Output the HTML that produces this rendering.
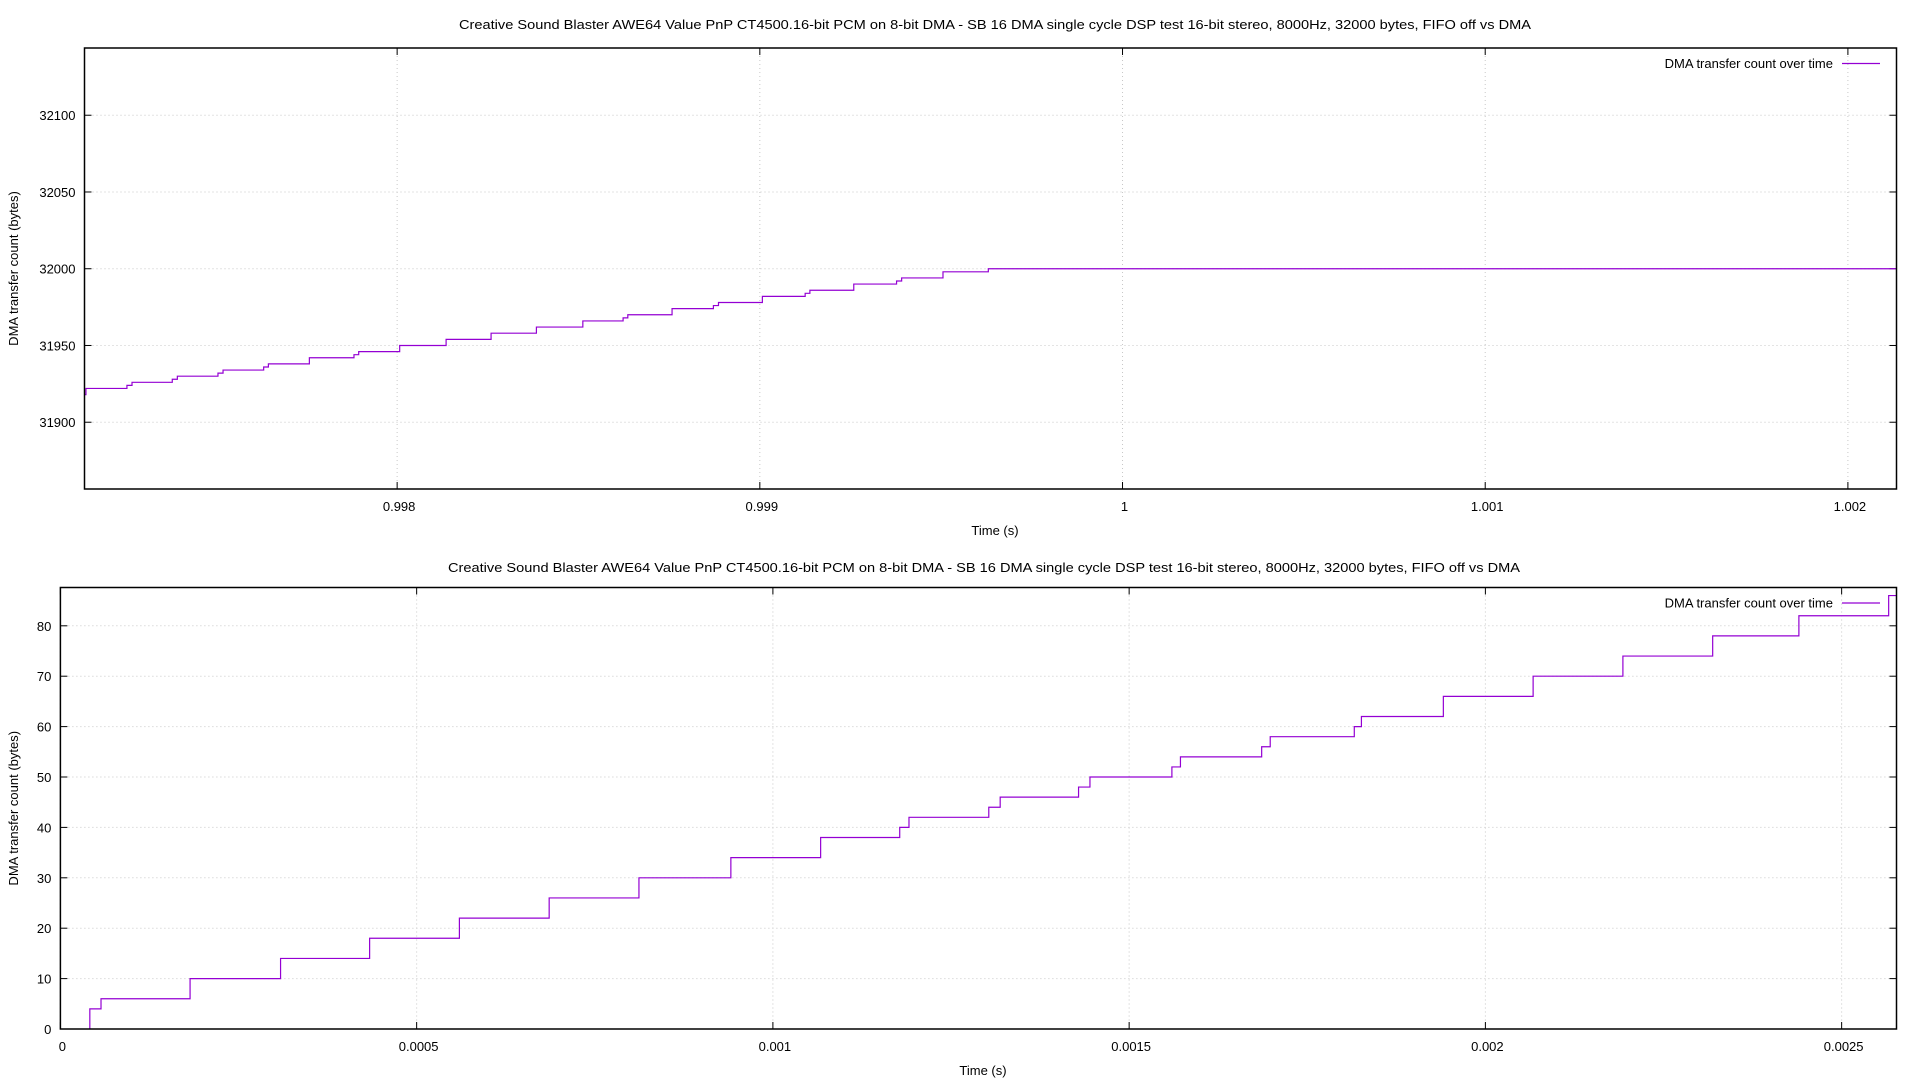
<!DOCTYPE html>
<html><head><meta charset="utf-8"><style>
html,body{margin:0;padding:0;background:#fff;}
svg{display:block;font-family:"Liberation Sans",sans-serif;}
</style></head><body>
<svg id="chart" width="1920" height="1080" xmlns="http://www.w3.org/2000/svg"></svg>
<script>
// Top chart data
const topTimes = [0.997137,0.997142,0.997255,0.997269,0.997380,0.997394,0.997506,0.997520,0.997632,0.997645,0.997758,0.997881,0.997894,0.998007,0.998135,0.998259,0.998384,0.998512,0.998623,0.998636,0.998758,0.998872,0.998886,0.999007,0.999125,0.999138,0.999259,0.999377,0.999391,0.999505,0.999630,1.002134];
const topValues = [31918,31922,31924,31926,31928,31930,31932,31934,31936,31938,31942,31944,31946,31950,31954,31958,31962,31966,31968,31970,31974,31976,31978,31982,31984,31986,31990,31992,31994,31998,32000,32000];
const topXTicks = [0.998,0.999,1,1.001,1.002];
const topXTickLabels = ["0.998","0.999","1","1.001","1.002"];
const topYTicks = [31900,31950,32000,32050,32100];
// Bottom chart data
const botTimes = [0.0000413,0.0000413,0.000057,0.000182,0.000309,0.000434,0.000560,0.000686,0.000812,0.000941,0.001067,0.001178,0.001191,0.001303,0.001319,0.001429,0.001445,0.001560,0.001572,0.001686,0.001698,0.001816,0.001826,0.001941,0.002067,0.002193,0.002319,0.002440,0.002566,0.002577];
const botValues = [0,4,6,10,14,18,22,26,30,34,38,40,42,44,46,48,50,52,54,56,58,60,62,66,70,74,78,82,86,86];
const botXTicks = [0,0.0005,0.001,0.0015,0.002,0.0025];
const botXTickLabels = ["0","0.0005","0.001","0.0015","0.002","0.0025"];
const botYTicks = [0,10,20,30,40,50,60,70,80];

const NS="http://www.w3.org/2000/svg";
const svg=document.getElementById('chart');
function mk(tag,attrs,parent){const e=document.createElementNS(NS,tag);for(const k in attrs)e.setAttribute(k,attrs[k]);(parent||svg).appendChild(e);return e;}

function drawPanel(cfg,name){
  const g=mk('g',{});
  
  
  const {L,R,T,B,xmin,xmax,ymin,ymax}=cfg;
  const sx=v=>L+(v-xmin)/(xmax-xmin)*(R-L);
  const sy=v=>B-(v-ymin)/(ymax-ymin)*(B-T);
  cfg.yTicks.forEach(v=>{
    const y=sy(v);
    const gl=mk('line',{x1:L,x2:R,y1:y,y2:y,stroke:'#c8c8c8','stroke-width':1,'stroke-dasharray':'1,3'},g);
    
    
    mk('line',{x1:L,x2:L+7,y1:y,y2:y,stroke:'#000','stroke-width':1},g);
    mk('line',{x1:R-7,x2:R,y1:y,y2:y,stroke:'#000','stroke-width':1},g);
    const t=mk('text',{x:L-9,y:y+5,'text-anchor':'end','font-size':13,fill:'#000'},g);
    t.textContent=String(v);
    
    
  });
  cfg.xTicks.forEach((v,i)=>{
    const x=sx(v);
    const gl=mk('line',{x1:x,x2:x,y1:T,y2:B,stroke:'#c8c8c8','stroke-width':1,'stroke-dasharray':'1,3'},g);
    
    
    mk('line',{x1:x,x2:x,y1:B-7,y2:B,stroke:'#000','stroke-width':1},g);
    mk('line',{x1:x,x2:x,y1:T,y2:T+7,stroke:'#000','stroke-width':1},g);
    const t=mk('text',{x:x+2,y:B+22,'text-anchor':'middle','font-size':13,fill:'#000'},g);
    t.textContent=cfg.xLabels[i];
    
    
  });
  let d='';
  for(let i=0;i<cfg.times.length;i++){
    const x=sx(cfg.times[i]),y=sy(cfg.values[i]);
    if(i===0)d+='M'+x+','+y;
    else d+=' H'+x+' V'+y;
  }
  const p=mk('path',{d:d,fill:'none',stroke:'#9400d3','stroke-width':1.2},g);
  
  
  const bd=mk('rect',{x:L,y:T,width:R-L,height:B-T,fill:'none',stroke:'#000','stroke-width':1.5},g);
  
  
  const tt=mk('text',{x:cfg.titleX,y:cfg.titleY,'text-anchor':'middle','font-size':13,fill:'#000',textLength:1072,lengthAdjust:'spacingAndGlyphs'},g);
  tt.textContent='Creative Sound Blaster AWE64 Value PnP CT4500.16-bit PCM on 8-bit DMA - SB 16 DMA single cycle DSP test 16-bit stereo, 8000Hz, 32000 bytes, FIFO off vs DMA';
  
  
  const xl=mk('text',{x:cfg.xLabelX,y:B+46,'text-anchor':'middle','font-size':13,fill:'#000'},g);
  xl.textContent='Time (s)';
  
  
  const cy=(T+B)/2;
  const yl=mk('text',{x:0,y:0,'text-anchor':'middle','font-size':13,fill:'#000',transform:'translate(18,'+cy+') rotate(-90)'},g);
  yl.textContent='DMA transfer count (bytes)';
  
  
  const lt=mk('text',{x:1833,y:T+20,'text-anchor':'end','font-size':13,fill:'#000'},g);
  lt.textContent='DMA transfer count over time';
  
  
  const ll=mk('line',{x1:1842,x2:1880,y1:T+15.5,y2:T+15.5,stroke:'#9400d3','stroke-width':1.2},g);
  
  
}

drawPanel({L:84.5,R:1896.5,T:48,B:489,xmin:0.997138,xmax:1.002134,ymin:31856.5,ymax:32143.8,
  xTicks:topXTicks,xLabels:topXTickLabels,yTicks:topYTicks,times:topTimes,values:topValues,
  titleX:995,titleY:29,xLabelX:995},'top-panel');
drawPanel({L:60.4,R:1896.5,T:587.5,B:1029,xmin:0,xmax:0.002577,ymin:0,ymax:87.6,
  xTicks:botXTicks,xLabels:botXTickLabels,yTicks:botYTicks,times:botTimes,values:botValues,
  titleX:984,titleY:572,xLabelX:983},'bottom-panel');
</script>
</body></html>
